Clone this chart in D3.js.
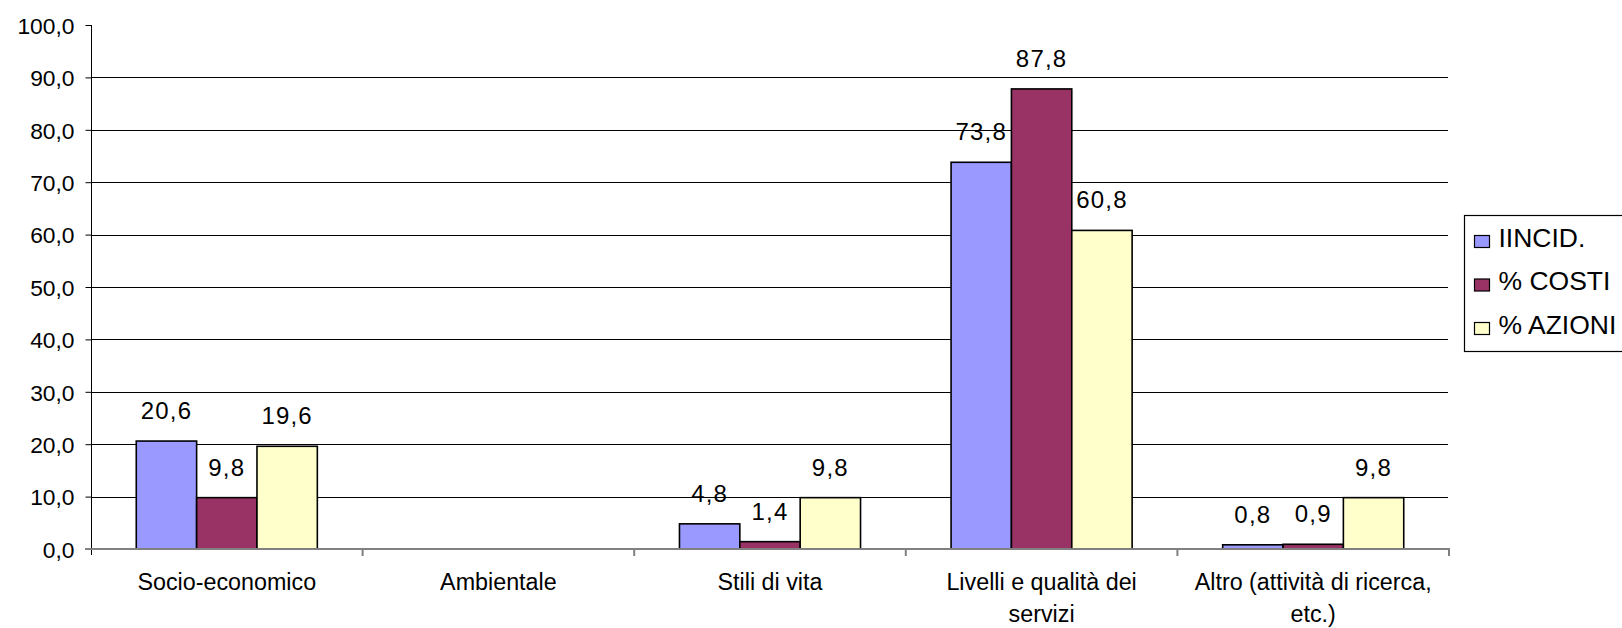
<!DOCTYPE html>
<html>
<head>
<meta charset="utf-8">
<script src="https://cdn.jsdelivr.net/npm/d3@7"></script>
<style>
  html, body { margin: 0; padding: 0; background: #fff; overflow: hidden; }
  svg { display: block; font-family: "Liberation Sans", Arial, sans-serif; }
</style>
</head>
<body>
<svg id="chart" width="1622" height="628"></svg>
<script>
// Ambiti di intervento
const categories = [
  "Socio-economico",
  "Ambientale",
  "Stili di vita",
  "Livelli e qualità dei servizi",
  "Altro (attività di ricerca, etc.)"
];
const seriesNames = ["IINCID.", "% COSTI", "% AZIONI"];
const seriesColors = ["#9999FF", "#993366", "#FFFFCC"];
const incid  = [20.6, null, 4.8, 73.8, 0.8];
const costi  = [9.8,  null, 1.4, 87.8, 0.9];
const azioni = [19.6, null, 9.8, 60.8, 9.8];
const yTicks = [0, 10, 20, 30, 40, 50, 60, 70, 80, 90, 100];

const seriesValues = [incid, costi, azioni];

const svg = d3.select("#chart");
const plotLeft = 91, plotRight = 1449, plotTop = 25, plotBottom = 549;

const it = d3.formatLocale({ decimal: ",", thousands: ".", grouping: [3], currency: ["€", ""] });
const fmt = it.format(".1f");

const y = d3.scaleLinear().domain([0, 100]).range([plotBottom, plotTop]);
const x = d3.scaleBand().domain(categories).range([plotLeft, plotRight])
  .paddingInner(1 / 3).paddingOuter(1 / 6);
const xs = d3.scaleBand().domain(seriesNames).range([0, x.bandwidth()]);

// horizontal gridlines
svg.append("g").selectAll("line")
  .data(yTicks.filter(t => t > 0 && t < 100))
  .join("line")
  .attr("x1", plotLeft).attr("x2", plotRight - 1)
  .attr("y1", d => Math.round(y(d)) + 0.5).attr("y2", d => Math.round(y(d)) + 0.5)
  .attr("stroke", "#000").attr("stroke-width", 1);

// y axis
const yAxis = svg.append("g")
  .attr("transform", `translate(${plotLeft + 0.5},0)`)
  .call(d3.axisLeft(y).tickValues(yTicks).tickFormat(fmt).tickSize(6).tickPadding(11));
yAxis.select(".domain").remove();
yAxis.selectAll(".tick line").attr("stroke", "#000");
yAxis.selectAll("text")
  .attr("font-size", 22.8).attr("fill", "#000")
  .attr("font-family", "'Liberation Sans', Arial, sans-serif")
  .attr("dy", "0.36em");
svg.append("line")
  .attr("x1", plotLeft + 0.5).attr("x2", plotLeft + 0.5)
  .attr("y1", y(100)).attr("y2", plotBottom + 6)
  .attr("stroke", "#000").attr("stroke-width", 1);

// bars
const rows = categories.map((c, i) => ({
  cat: c,
  vals: seriesNames.map((s, k) => ({ s, k, v: seriesValues[k][i] }))
}));

const groups = svg.append("g").selectAll("g")
  .data(rows).join("g")
  .attr("transform", d => `translate(${x(d.cat)},0)`);

groups.selectAll("rect")
  .data(d => d.vals.filter(v => v.v != null))
  .join("rect")
  .attr("x", d => xs(d.s))
  .attr("y", d => y(d.v))
  .attr("width", xs.bandwidth())
  .attr("height", d => y(0) - y(d.v))
  .attr("fill", d => seriesColors[d.k])
  .attr("stroke", "#000")
  .attr("stroke-width", 1.6);

groups.selectAll("text")
  .data(d => d.vals.filter(v => v.v != null))
  .join("text")
  .attr("x", d => xs(d.s) + xs.bandwidth() / 2)
  .attr("y", d => y(d.v) - 22)
  .attr("text-anchor", "middle")
  .attr("font-size", 24)
  .attr("letter-spacing", 1.2)
  .attr("fill", "#000")
  .text(d => fmt(d.v));

// category axis baseline and ticks
svg.append("line")
  .attr("x1", plotLeft - 6).attr("x2", plotRight + 1)
  .attr("y1", plotBottom).attr("y2", plotBottom)
  .attr("stroke", "#808080").attr("stroke-width", 2);
const step = x.step();
svg.append("g").selectAll("line")
  .data(d3.range(categories.length + 1).slice(1))
  .join("line")
  .attr("x1", i => plotLeft + i * step).attr("x2", i => plotLeft + i * step)
  .attr("y1", plotBottom).attr("y2", plotBottom + 7)
  .attr("stroke", "#808080").attr("stroke-width", 2);

// category labels, wrapped to the band
const labelSize = 23.3;
const labels = svg.append("g").selectAll("text")
  .data(categories).join("text")
  .attr("text-anchor", "middle")
  .attr("font-size", labelSize)
  .attr("fill", "#000")
  .attr("x", d => x(d) + x.bandwidth() / 2)
  .attr("y", 590);

labels.each(function (d) {
  const t = d3.select(this);
  const words = d.split(" ");
  let line = [];
  let span = t.append("tspan").attr("x", x(d) + x.bandwidth() / 2).attr("dy", 0);
  words.forEach(w => {
    line.push(w);
    span.text(line.join(" "));
    if (span.node().getComputedTextLength() > 250 && line.length > 1) {
      line.pop();
      span.text(line.join(" "));
      line = [w];
      span = t.append("tspan").attr("x", x(d) + x.bandwidth() / 2).attr("dy", 31.5).text(w);
    }
  });
});

// legend (runs past the right edge of the drawing)
const lg = svg.append("g").attr("transform", "translate(1464.5,215.5)");
lg.append("rect")
  .attr("width", 300).attr("height", 136)
  .attr("fill", "#fff").attr("stroke", "#000").attr("stroke-width", 1.2);
const li = lg.selectAll("g").data(seriesNames).join("g")
  .attr("transform", (d, i) => `translate(0,${31 + i * 43.5})`);
li.append("rect")
  .attr("x", 10).attr("y", -11).attr("width", 15).attr("height", 12)
  .attr("fill", (d, i) => seriesColors[i]).attr("stroke", "#000").attr("stroke-width", 1.2);
li.append("text")
  .attr("x", 34).attr("y", 0)
  .attr("font-size", 26.5).attr("fill", "#000")
  .text(d => d);
</script>
</body>
</html>
